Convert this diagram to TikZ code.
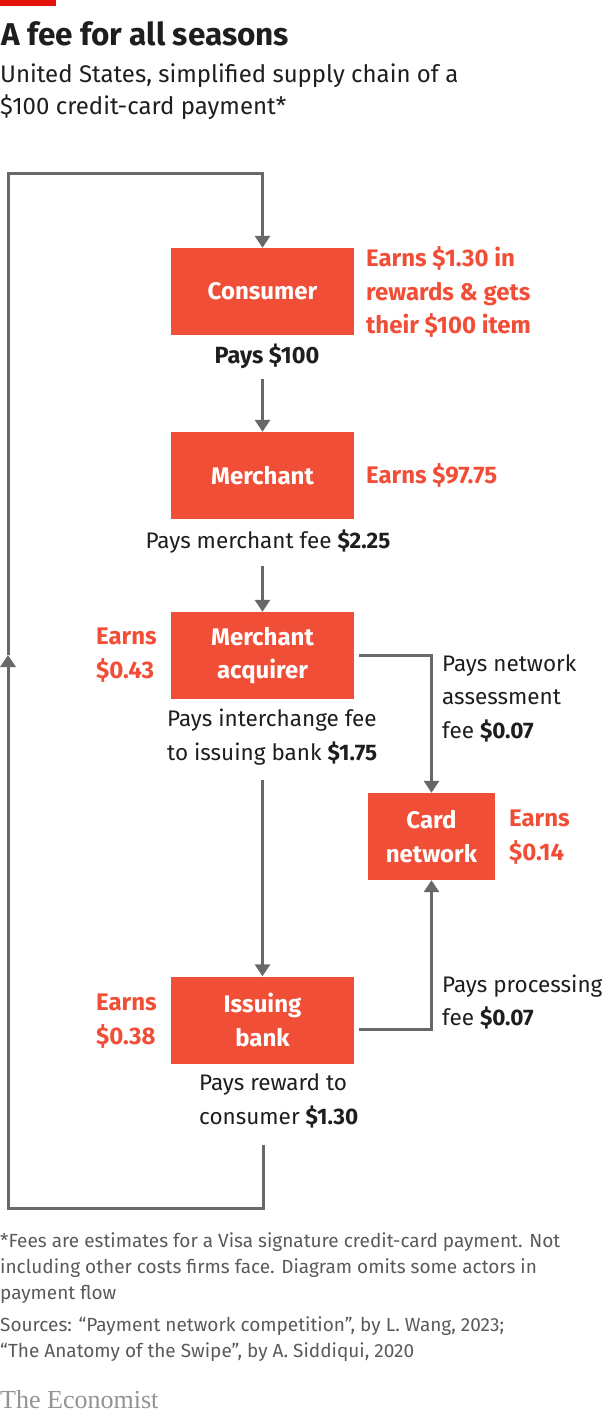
\documentclass[tikz,border=0pt]{standalone}
\usepackage{fontspec}
\setmainfont{Fira Sans}
\newfontfamily\notefont{Fira Sans}
\newfontfamily\ecofont{Liberation Serif}
\usetikzlibrary{arrows.meta,calc}
\definecolor{boxred}{HTML}{F04E37}
\definecolor{txtred}{HTML}{F04E37}
\definecolor{linegray}{HTML}{67686A}
\definecolor{ink}{HTML}{1E1E1E}
\definecolor{notegray}{HTML}{5A5A5A}
\definecolor{ecored}{HTML}{E3120B}
\newcommand\fs[2]{\fontsize{#1pt}{#2pt}\selectfont}
\begin{document}
\begin{tikzpicture}[x=1pt,y=-1pt,
  actor/.style={fill=boxred,text=white,font=\fs{24}{33.5}\bfseries,minimum width=183pt,minimum height=87pt,inner sep=0pt,align=center},
  earn/.style={text=txtred,font=\fs{24}{33.5}\bfseries,inner sep=0pt,align=left},
  pay/.style={text=ink,font=\fs{22.5}{33.5},inner sep=0pt,align=left},
  line/.style={draw=linegray,line width=3pt},
  conn/.style={line,-{Triangle[width=15pt,length=12pt]}}]
\useasboundingbox (0,0) rectangle (608,1417);
\fill[ecored] (0,0) rectangle (56,6);
\node[anchor=base west,inner sep=0pt,text=ink,font=\fs{31.5}{34}\bfseries] (title) at (1,45) {A fee for all seasons};
\node[anchor=base west,inner sep=0pt,text=ink,font=\fs{24}{32}] (sub1) at (0,82) {United States, simplified supply chain of a};
\node[anchor=base west,inner sep=0pt,text=ink,font=\fs{24}{32}] (sub2) at (0,114) {\$100 credit-card payment*};

\node[actor] (consumer) at (262.5,291.5) {Consumer};
\node[actor] (merchant) at (262.5,475.5) {Merchant};
\node[actor] (acquirer) at (262.5,655.5) {Merchant\\acquirer};
\node[actor,minimum width=127pt] (card) at (431.5,836.5) {Card\\network};
\node[actor] (issuing) at (262.5,1020) {Issuing\\bank};

\node[earn,anchor=west] (earn1) at (366,292) {Earns \$1.30 in\\rewards \& gets\\their \$100 item};
\node[pay,font=\fs{23.5}{33.5}\bfseries] (pays100) at (267,356) {Pays \$100};
\node[earn,anchor=west] (earn2) at (366,475) {Earns \$97.75};
\node[pay] (fee1) at (268,542) {Pays merchant fee \textbf{\$2.25}};
\node[earn,anchor=west] (earn3) at (96,655) {Earns\\\$0.43};
\node[pay,anchor=west] (fee2) at (167,737) {Pays interchange fee\\to issuing bank \textbf{\$1.75}};
\node[pay,anchor=west] (fee3) at (442,698) {Pays network\\assessment\\fee \textbf{\$0.07}};
\node[earn,anchor=west] (earn4) at (509,837) {Earns\\\$0.14};
\node[earn,anchor=west] (earn5) at (96,1021) {Earns\\\$0.38};
\node[pay,anchor=west] (fee4) at (442,1002) {Pays processing\\fee \textbf{\$0.07}};
\node[pay,anchor=west] (fee5) at (199,1101) {Pays reward to\\consumer \textbf{\$1.30}};

\node[anchor=west,inner sep=0pt,align=left,text=notegray,font=\notefont\fs{19}{26}] (note) at (0,1268) {*Fees are estimates for a Visa signature credit-card payment. Not\\including other costs firms face. Diagram omits some actors in\\payment flow};
\node[anchor=west,inner sep=0pt,align=left,text=notegray,font=\notefont\fs{19}{26}] (sources) at (0,1339) {Sources: “Payment network competition”, by L. Wang, 2023;\\“The Anatomy of the Swipe”, by A. Siddiqui, 2020};
\node[anchor=west,inner sep=0pt,text=gray!85,font=\ecofont\fs{26}{28}] (econ) at (0,1400) {The Economist};

\coordinate (loopstart) at (263,1145);
\coordinate (loopbl) at (8,1208);
\coordinate (looparrow) at (8,655);
\coordinate (looptl) at (8,173);
\draw[conn] (loopstart) |- (loopbl) -- (looparrow);
\draw[conn] (looparrow) -- (looptl) -| (consumer.north);
\draw[conn,shorten <=10pt] (merchant.north |- pays100.south) -- (merchant.north);
\draw[conn,shorten <=12pt] (acquirer.north |- fee1.south) -- (acquirer.north);
\draw[conn,shorten <=5pt] (acquirer.east) -| (card.north);
\draw[conn,shorten <=15pt] (issuing.north |- fee2.south) -- (issuing.north);
\draw[conn,shorten <=5pt] ([yshift=-9pt]issuing.east) -| (card.south);
\end{tikzpicture}
\end{document}
